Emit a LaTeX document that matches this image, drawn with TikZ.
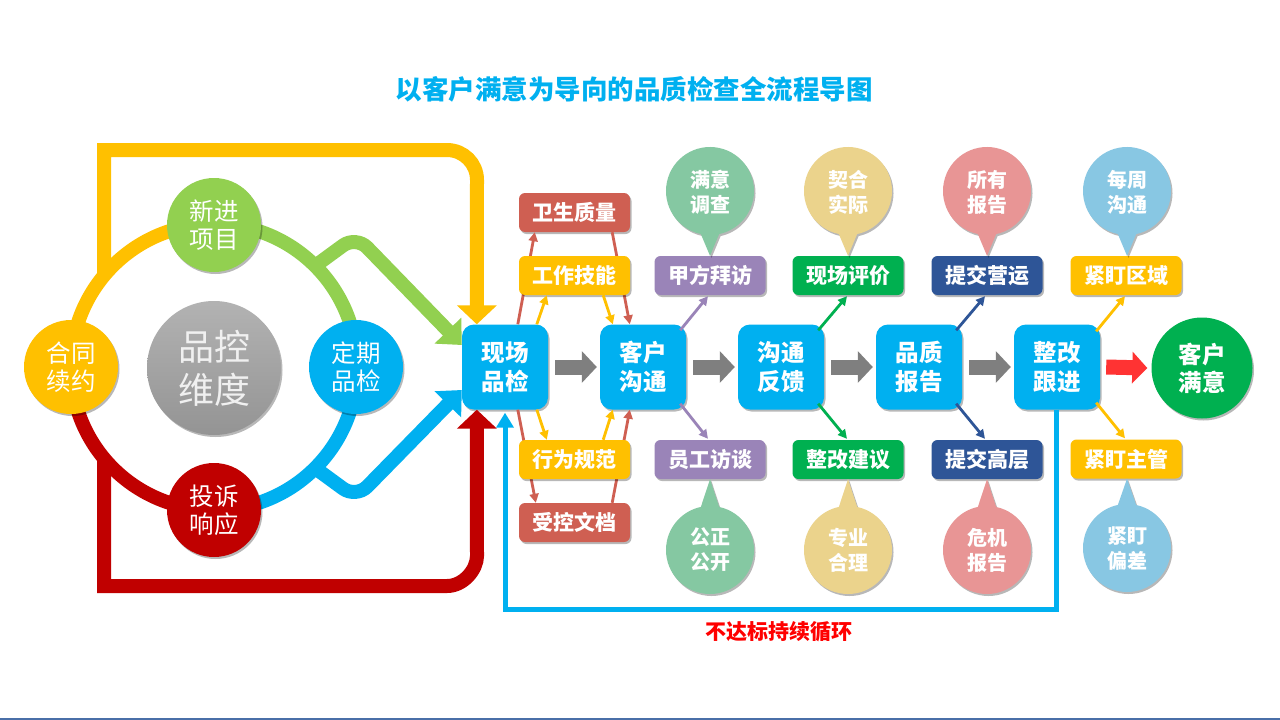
\documentclass[tikz,border=0pt]{standalone}
\usepackage{fontspec}
\setmainfont{Noto Sans CJK SC}
\usetikzlibrary{arrows.meta,shadows,calc}
\definecolor{cblue}{HTML}{00B0F0}
\definecolor{cyel}{HTML}{FFC000}
\definecolor{cgrn}{HTML}{92D050}
\definecolor{cred}{HTML}{C00000}
\definecolor{cbrick}{HTML}{CF5F52}
\definecolor{cpurp}{HTML}{9A84B8}
\definecolor{cgreen}{HTML}{00B050}
\definecolor{cnavy}{HTML}{2E5597}
\definecolor{cgray}{HTML}{7F7F7F}
\definecolor{carrowred}{HTML}{FF3333}
\definecolor{bteal}{HTML}{85C8A2}
\definecolor{btan}{HTML}{EBD38C}
\definecolor{bpink}{HTML}{E89595}
\definecolor{bsky}{HTML}{88C7E3}
\definecolor{lineblue}{HTML}{4A6FA8}
\tikzset{
  shad/.style={drop shadow={shadow xshift=1.5pt,shadow yshift=-2pt,opacity=0.28,fill=black}},
  mainbox/.style={shad,fill=cblue,rounded corners=12pt,minimum width=86pt,minimum height=85pt,
    text=white,font=\bfseries\fontsize{23.5}{29}\selectfont,align=center,inner sep=0pt},
  sidebox/.style={shad,rounded corners=6pt,minimum width=111pt,minimum height=39pt,
    text=white,font=\bfseries\fontsize{21}{25}\selectfont,inner sep=0pt},
  ringnode/.style={shad,circle,minimum size=94pt,inner sep=0pt,text=white,
    font=\fontsize{24.5}{28}\selectfont,align=center},
  bubtext/.style={text=white,font=\bfseries\fontsize{20}{25}\selectfont,align=center},
  bigarr/.style={line width=14pt},
  garrow/.style={cgray,line width=15pt,-{Triangle[width=31pt,length=15pt]}},
  thinarr/.style={line width=2.8pt,-{Triangle[width=9pt,length=9pt]}},
}
\begin{document}
\begin{tikzpicture}[x=1pt,y=-1pt]
\useasboundingbox (0,0) rectangle (1280,720);
\fill[white] (0,0) rectangle (1280,720);
% title
\node[text=cblue,font=\bfseries\fontsize{26.5}{30}\selectfont] (title) at (634,89) {以客户满意为导向的品质检查全流程导图};
% bottom rule
\draw[lineblue,line width=1.5pt] (0,718.8) -- (1280,718.8);

% main flow nodes
\node[mainbox] (xc) at (505,367) {现场\\品检};
\node[mainbox] (kh) at (643,367) {客户\\沟通};
\node[mainbox] (fk) at (781,367) {沟通\\反馈};
\node[mainbox] (pz) at (919,367) {品质\\报告};
\node[mainbox] (zg) at (1057,367) {整改\\跟进};
\node[shad,circle,fill=cgreen,minimum size=101pt,inner sep=0pt,text=white,
  font=\bfseries\fontsize{23.5}{28}\selectfont,align=center] (km) at (1202,368) {客户\\满意};

% ring
\coordinate (ring) at (214,367);
\draw[cyel,bigarr] (ring) ++(180:143) arc[start angle=180,end angle=270,radius=143];
\draw[cgrn,bigarr] (ring) ++(270:143) arc[start angle=270,end angle=360,radius=143];
\draw[cblue,bigarr] (ring) ++(0:143) arc[start angle=0,end angle=90,radius=143];
\draw[cred,bigarr] (ring) ++(90:143) arc[start angle=90,end angle=180,radius=143];

% big arrows
\draw[cyel,bigarr,-{Triangle[width=39pt,length=19pt]}] (104,277) -- (104,150) -- (447,150)
  .. controls (463.6,150) and (477,163.4) .. (477,180) -- ([xshift=15pt]xc.north west);
\draw[cred,bigarr,-{Triangle[width=39pt,length=19pt]}] (104,458) -- (104,586) -- (447,586)
  .. controls (463.6,586) and (477,569.4) .. (477,556) -- ([xshift=15pt]xc.south west);
\draw[cgrn,bigarr,rounded corners=16pt,-{Triangle[width=36pt,length=20pt]}] (315,266) -- (356,236) -- ([yshift=22pt]xc.west);
\draw[cblue,bigarr,rounded corners=16pt,-{Triangle[width=36pt,length=20pt]}] (315,468) -- (356,498) -- ([yshift=-23pt]xc.west);

% ring nodes
\node[shad,circle,minimum size=134pt,inner sep=0pt,top color=black!30,bottom color=black!42,
  text=black!6,font=\fontsize{36}{43}\selectfont,align=center] (core) at (214,368) {品控\\维度};
\node[ringnode,fill=cgrn] (xj) at (214,225) {新进\\项目};
\node[ringnode,fill=cyel] (ht) at (71,367) {合同\\续约};
\node[ringnode,fill=cblue] (dq) at (356,367) {定期\\品检};
\node[ringnode,fill=cred] (ts) at (214,510) {投诉\\响应};

% side boxes left
\node[sidebox,fill=cbrick] (ws) at (574.5,212.5) {卫生质量};
\node[sidebox,fill=cbrick] (sk) at (574.5,522.5) {受控文档};

% thin arrows around left side boxes (drawn before the yellow boxes)
\draw[cbrick,thinarr] ([xshift=56pt]xc.north west) -- ([xshift=16pt]ws.south west);
\draw[cbrick,thinarr] ([xshift=-18pt]ws.south east) -- ([xshift=30pt]kh.north west);
\draw[cbrick,thinarr] ([xshift=56pt]xc.south west) -- ([xshift=17pt]sk.north west);
\draw[cbrick,thinarr] ([xshift=-18pt]sk.north east) -- ([xshift=30pt]kh.south west);

\node[sidebox,fill=cyel] (gz) at (574.5,275.5) {工作技能};
\node[sidebox,fill=cyel] (xw) at (574.5,459.5) {行为规范};
\draw[cyel,thinarr] ([xshift=75pt]xc.north west) -- ([xshift=28pt]gz.south west);
\draw[cyel,thinarr] ([xshift=-27pt]gz.south east) -- ([xshift=13pt]kh.north west);
\draw[cyel,thinarr] ([xshift=75pt]xc.south west) -- ([xshift=28pt]xw.north west);
\draw[cyel,thinarr] ([xshift=-27pt]xw.north east) -- ([xshift=13pt]kh.south west);

% other side boxes
\node[sidebox,fill=cpurp] (jf) at (710,275.5) {甲方拜访};
\node[sidebox,fill=cpurp] (yg) at (710,459.5) {员工访谈};
\node[sidebox,fill=cgreen] (xp) at (848,275.5) {现场评价};
\node[sidebox,fill=cgreen] (zj) at (848,459.5) {整改建议};
\node[sidebox,fill=cnavy] (ty) at (987,275.5) {提交营运};
\node[sidebox,fill=cnavy] (tg) at (987,459.5) {提交高层};
\node[sidebox,fill=cyel] (jq) at (1126,275.5) {紧盯区域};
\node[sidebox,fill=cyel] (jz) at (1126,459) {紧盯主管};

% diagonal arrows
\draw[cpurp,thinarr] ($(kh.north east)+(-6,6)$) -- ($(jf.south)+(-2,1)$);
\draw[cpurp,thinarr] ($(kh.south east)+(-6,-6)$) -- ($(yg.north)+(-2,-1)$);
\draw[cgreen,thinarr] ($(fk.north east)+(-6,6)$) -- ($(xp.south)+(-1,1)$);
\draw[cgreen,thinarr] ($(fk.south east)+(-6,-6)$) -- ($(zj.north)+(-1,-1)$);
\draw[cnavy,thinarr] ($(pz.north east)+(-6,6)$) -- ($(ty.south)+(-2,1)$);
\draw[cnavy,thinarr] ($(pz.south east)+(-6,-6)$) -- ($(tg.north)+(-2,-1)$);
\draw[cyel,thinarr] ($(zg.north east)+(-4,7)$) -- ($(jq.south)+(-1,1)$);
\draw[cyel,thinarr] ($(zg.south east)+(-4,-7)$) -- ($(jz.north)+(-1,-1)$);

% gray flow arrows
\draw[garrow] ([xshift=7pt]xc.east) -- ([xshift=-3pt]kh.west);
\draw[garrow] ([xshift=7pt]kh.east) -- ([xshift=-3pt]fk.west);
\draw[garrow] ([xshift=7pt]fk.east) -- ([xshift=-3pt]pz.west);
\draw[garrow] ([xshift=7pt]pz.east) -- ([xshift=-3pt]zg.west);
\draw[carrowred,line width=15pt,-{Triangle[width=31pt,length=15pt]}] ([xshift=6pt]zg.east) -- ([xshift=-4pt]km.west);

% bubbles top (single outline: arc + pointer)
\coordinate (b1) at (710,191);
\coordinate (b2) at (848,191);
\coordinate (b3) at (987,191);
\coordinate (b4) at (1127,191);
\fill[bteal,shad] ($(b1)+(102:44)$) arc[start angle=102,end angle=438,radius=44] -- (jf.north) -- cycle;
\fill[btan,shad] ($(b2)+(102:44)$) arc[start angle=102,end angle=438,radius=44] -- (xp.north) -- cycle;
\fill[bpink,shad] ($(b3)+(102:44)$) arc[start angle=102,end angle=438,radius=44] -- (ty.north) -- cycle;
\fill[bsky,shad] ($(b4)+(102:44)$) arc[start angle=102,end angle=438,radius=44] -- ($(jq.north)+(1,0)$) -- cycle;
\node[bubtext] (t1) at (710,192.5) {满意\\调查};
\node[bubtext] (t2) at (848,192.5) {契合\\实际};
\node[bubtext] (t3) at (987,192.5) {所有\\报告};
\node[bubtext] (t4) at (1127,192.5) {每周\\沟通};

% bubbles bottom
\coordinate (c1) at (710,550);
\coordinate (c2) at (848,550);
\coordinate (c3) at (987,550);
\coordinate (c4) at (1127,548);
\fill[bteal,shad] ($(c1)+(282:44)$) arc[start angle=282,end angle=618,radius=44] -- (yg.south) -- cycle;
\fill[btan,shad] ($(c2)+(282:44)$) arc[start angle=282,end angle=618,radius=44] -- (zj.south) -- cycle;
\fill[bpink,shad] ($(c3)+(282:44)$) arc[start angle=282,end angle=618,radius=44] -- (tg.south) -- cycle;
\fill[bsky,shad] ($(c4)+(282:44)$) arc[start angle=282,end angle=618,radius=44] -- ($(jz.south)+(1,0)$) -- cycle;
\node[bubtext] (u1) at (710,550) {公正\\公开};
\node[bubtext] (u2) at (848,550) {专业\\合理};
\node[bubtext] (u3) at (987,550) {危机\\报告};
\node[bubtext] (u4) at (1127,549) {紧盯\\偏差};

% feedback loop
\coordinate (loopy) at (0,609);
\draw[cblue,line width=5pt,-{Triangle[width=17pt,length=15pt]}] ([xshift=-1pt]zg.south) -- ([xshift=-1pt]zg.south |- loopy) -| ([yshift=-3pt]xc.south);
\node[text=red,font=\bfseries\fontsize{21}{25}\selectfont] (lbl) at (779,632) {不达标持续循环};
\end{tikzpicture}
\end{document}
